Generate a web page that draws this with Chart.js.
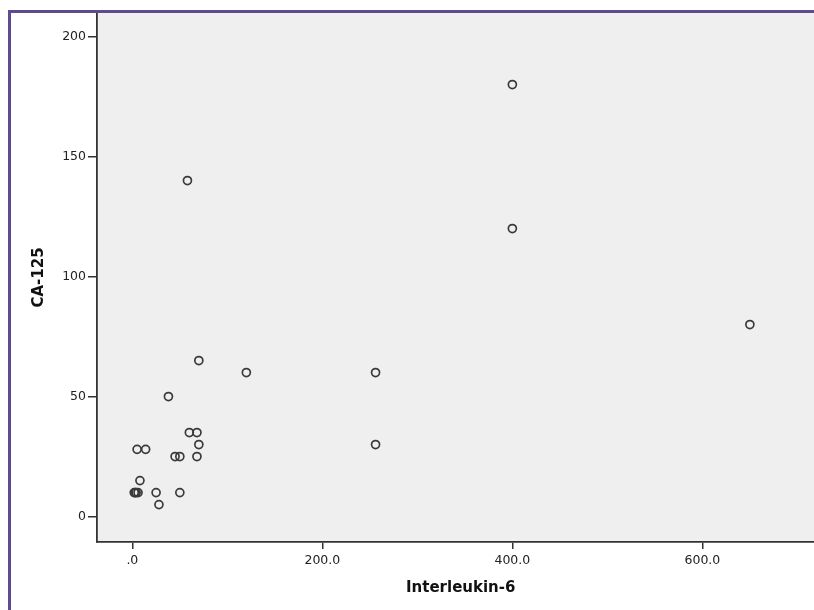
<!DOCTYPE html>
<html>
<head>
<meta charset="utf-8">
<script src="https://cdn.jsdelivr.net/npm/chart.js@4"></script>
<style>
  html, body { margin: 0; padding: 0; background: #ffffff; }
  #wrap { position: relative; width: 814px; height: 610px; }
  #frame { position: absolute; left: 8px; top: 10px; width: 806px; height: 600px;
           border-left: 3px solid #5e4a8f; border-top: 3px solid #5e4a8f; box-sizing: border-box; pointer-events: none; }
  canvas { display: block; }
</style>
</head>
<body>
<div id="wrap">
  <canvas id="c" width="814" height="610"></canvas>
  <div id="frame"></div>
</div>
<script>
const il6Values   = [2, 3, 4, 6, 8, 25, 28, 50, 5, 14, 45, 50, 68, 70, 60, 68, 38, 70, 120, 58, 256, 256, 400, 400, 650];
const ca125Values = [10, 10, 10, 10, 15, 10, 5, 10, 28, 28, 25, 25, 25, 30, 35, 35, 50, 65, 60, 140, 60, 30, 180, 120, 80];
const xTickValues = [0, 200, 400, 600];
const yTickValues = [0, 50, 100, 150, 200];
const xTitle = 'Interleukin-6';
const yTitle = 'CA-125';

const points = il6Values.map((v, i) => ({ x: v, y: ca125Values[i] }));

const plotBg = {
  id: 'plotBg',
  beforeDraw(chart) {
    const { ctx, chartArea: a } = chart;
    ctx.save();
    ctx.fillStyle = '#efefef';
    ctx.fillRect(a.left, a.top, a.right - a.left, a.bottom - a.top);
    ctx.restore();
  }
};

const tickFont = { family: '"DejaVu Sans", sans-serif', size: 12.5 };
const titleFont = { family: '"DejaVu Sans", sans-serif', size: 15, weight: 'bold' };

new Chart(document.getElementById('c'), {
  type: 'scatter',
  data: {
    datasets: [{
      data: points,
      pointStyle: 'circle',
      pointRadius: 4,
      pointBorderWidth: 1.7,
      borderColor: '#3a3a3a',
      backgroundColor: 'rgba(0,0,0,0)',
      pointHoverRadius: 4
    }]
  },
  options: {
    responsive: false,
    animation: false,
    events: [],
    layout: { autoPadding: false, padding: { left: 0, top: 13, right: 0, bottom: 0 } },
    plugins: { legend: { display: false }, tooltip: { enabled: false } },
    scales: {
      x: {
        type: 'linear',
        min: -37.2,
        max: 717.5,
        afterBuildTicks: (s) => { s.ticks = xTickValues.map(v => ({ value: v })); },
        afterFit: (s) => { s.height = 68; s.paddingLeft = 0; s.paddingRight = 0; },
        grid: { drawOnChartArea: false, drawTicks: true, tickLength: 7, tickColor: '#333333', lineWidth: 1.5 },
        border: { display: true, color: '#333333', width: 1.8 },
        ticks: {
          color: '#222222', font: tickFont, padding: 4, maxRotation: 0, autoSkip: false,
          callback: (v) => v === 0 ? '.0' : v.toFixed(1)
        },
        title: { display: true, text: '  ' + xTitle, color: '#111111', font: titleFont, padding: { top: 0, bottom: 13 } }
      },
      y: {
        type: 'linear',
        min: -10.6,
        max: 209.8,
        afterBuildTicks: (s) => { s.ticks = yTickValues.map(v => ({ value: v })); },
        afterFit: (s) => { s.width = 97; s.paddingTop = 0; s.paddingBottom = 0; },
        grid: { drawOnChartArea: false, drawTicks: true, tickLength: 9, tickColor: '#333333', lineWidth: 1.5 },
        border: { display: true, color: '#333333', width: 1.8 },
        ticks: {
          color: '#222222', font: tickFont, padding: 2, autoSkip: false,
          callback: (v) => String(v)
        },
        title: { display: true, text: yTitle, color: '#111111', font: titleFont, padding: { top: 30, bottom: 0 } }
      }
    }
  },
  plugins: [plotBg]
});
</script>
</body>
</html>
